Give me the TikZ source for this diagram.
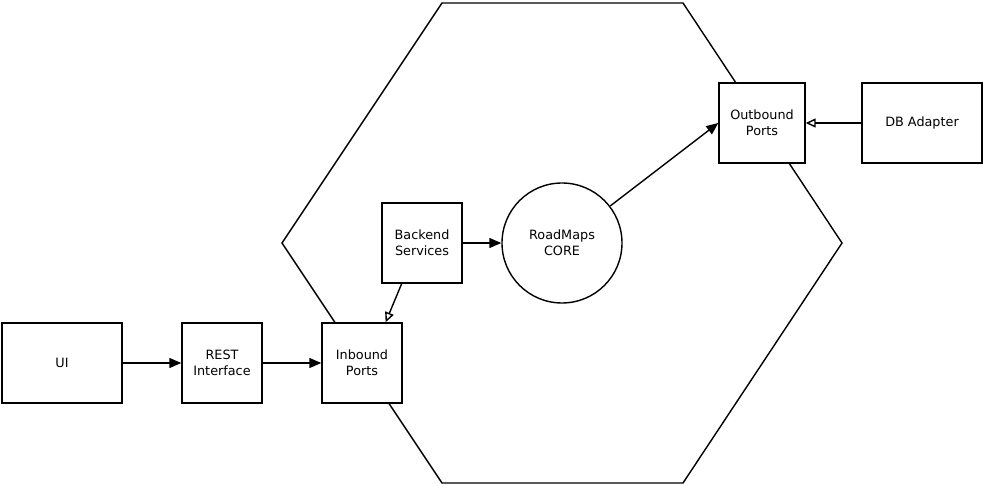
\documentclass[tikz,border=0pt]{standalone}
\usepackage{fontspec}
\setmainfont{DejaVu Sans}
\usetikzlibrary{arrows.meta,calc}
\begin{document}
\begin{tikzpicture}[x=1pt,y=-1pt,
  line width=1.4pt,
  txt/.style={font=\fontsize{12.8}{16}\selectfont},
  box/.style={draw,fill=white,minimum width=#1,minimum height=80pt,inner sep=0pt,align=center,txt},
  box/.default=80pt,
  solidarr/.style={-{Triangle[length=12pt,width=10pt]}},
  openarr/.style={-{Triangle[open,length=10pt,width=9pt]}}]
\useasboundingbox (0,0) rectangle (983,486);
\draw (442,3) -- (683,3) -- (842,243) -- (683,483) -- (442,483) -- (282,243) -- cycle;
\node[box=120pt] (ui) at (62,363) {UI};
\node[box] (rest) at (222,363) {REST\\Interface};
\node[box] (ib) at (362,363) {Inbound\\Ports};
\node[box] (bs) at (422,243) {Backend\\Services};
\node[draw,circle,minimum size=120pt,inner sep=0pt,align=center,txt] (core) at (562,243) {RoadMaps\\CORE};
\node[box=86pt] (ob) at (762,123) {Outbound\\Ports};
\node[box=120pt] (db) at (922,123) {DB Adapter};
\coordinate (bsout) at ($(bs.south west)!0.25!(bs.south east)$);
\coordinate (ibin) at ($(ib.north west)!0.79!(ib.north east)$);
\draw[solidarr] (ui) -- (rest);
\draw[solidarr] (rest) -- (ib);
\draw[solidarr] (bs) -- (core);
\draw[solidarr] (core) -- (ob.west);
\draw[openarr] (db) -- (ob);
\draw[openarr] (bsout) -- (ibin);
\end{tikzpicture}
\end{document}
